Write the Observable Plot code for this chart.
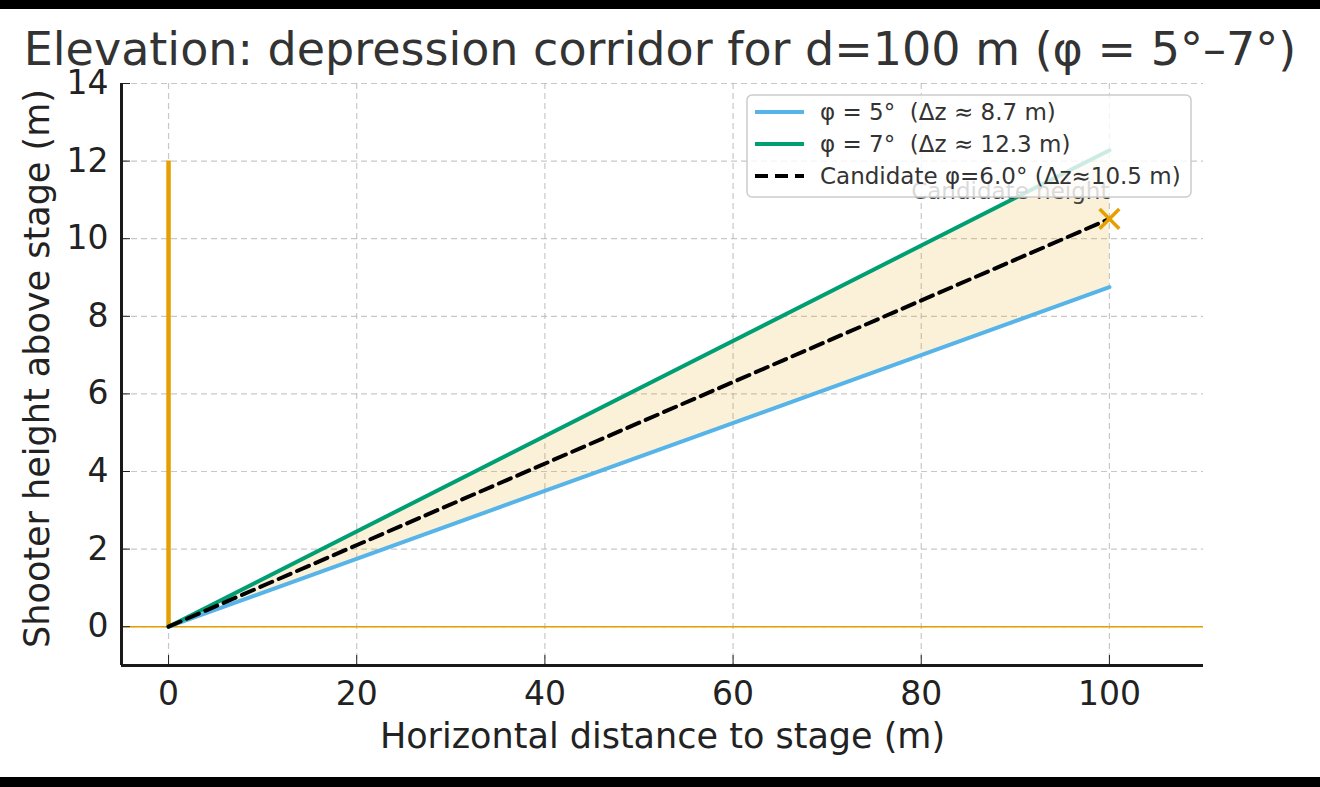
<!DOCTYPE html>
<html>
<head>
<meta charset="utf-8">
<script src="https://cdn.jsdelivr.net/npm/d3@7"></script>
<script src="https://cdn.jsdelivr.net/npm/@observablehq/plot@0.6"></script>
<style>
  html, body { margin: 0; padding: 0; background: #fff; }
  .bar { background: #000; width: 1320px; }
  #wrap { position: relative; width: 1320px; height: 768px; }
  #title { position: absolute; left: 0; width: 1320px; top: 17px; text-align: center;
           font-family: "DejaVu Sans", sans-serif; font-size: 46px; line-height: 46px; color: #333; white-space: nowrap; }
  svg { display: block; overflow: visible; }
</style>
</head>
<body>
<div class="bar" style="height:9px"></div>
<div id="wrap">
  <div id="title">Elevation: depression corridor for d=100 m (φ = 5°–7°)</div>
</div>
<div class="bar" style="height:10px"></div>
<script>
// ---- data ----
const distances = [0, 100];           // horizontal distance (m)
const lowHeights = [0, 8.75];         // φ = 5°
const highHeights = [0, 12.28];       // φ = 7°
const candHeights = [0, 10.51];       // φ = 6.0°
const candidatePoint = [{x: 100, y: 10.51}];
const stageMast = [{x: 0, y1: 0, y2: 12}];
const xTicks = [0, 20, 40, 60, 80, 100];
const yTicks = [0, 2, 4, 6, 8, 10, 12, 14];
const xDomain = [-5, 110];
const yDomain = [-1, 14];
const legendLabels = ["φ = 5°  (Δz ≈ 8.7 m)", "φ = 7°  (Δz ≈ 12.3 m)", "Candidate φ=6.0° (Δz≈10.5 m)"];
const colors = {low: "#56B4E9", high: "#009E73", cand: "#000000", accent: "#E69F00"};

const table = distances.map((d, i) => ({d, low: lowHeights[i], high: highHeights[i], cand: candHeights[i]}));

const W = 1320, H = 768, mT = 74, mB = 112, mL = 121, mR = 117;

const chart = Plot.plot({
  width: W, height: H,
  marginTop: mT, marginBottom: mB, marginLeft: mL, marginRight: mR,
  x: {domain: xDomain},
  y: {domain: yDomain},
  style: {fontFamily: "DejaVu Sans, sans-serif", fontSize: "33px", color: "#222", background: "transparent"},
  marks: [
    Plot.gridX(xTicks, {stroke: "#b0b0b0", strokeOpacity: 0.7, strokeWidth: 1.2, strokeDasharray: "6,4"}),
    Plot.gridY(yTicks, {stroke: "#b0b0b0", strokeOpacity: 0.7, strokeWidth: 1.2, strokeDasharray: "6,4"}),
    Plot.areaY(table, {x: "d", y1: "low", y2: "high", fill: colors.accent, fillOpacity: 0.15}),
    Plot.ruleY([0], {stroke: colors.accent, strokeWidth: 1.6}),
    Plot.ruleX(stageMast, {x: "x", y1: "y1", y2: "y2", stroke: colors.accent, strokeWidth: 4.5}),
    Plot.line(table, {x: "d", y: "low", stroke: colors.low, strokeWidth: 4}),
    Plot.line(table, {x: "d", y: "high", stroke: colors.high, strokeWidth: 4}),
    Plot.line(table, {x: "d", y: "cand", stroke: colors.cand, strokeWidth: 4, strokeDasharray: "13,7"}),
    Plot.dot(candidatePoint, {x: "x", y: "y", symbol: "times", r: 9, stroke: colors.accent, strokeWidth: 3.5}),
    Plot.text(candidatePoint, {x: "x", y: "y", text: () => "Candidate height", textAnchor: "end", dy: -27, fontSize: 23, fill: "#444"}),
    Plot.axisX(xTicks, {tickSize: -10, tickPadding: 26, label: null, fontSize: 33, stroke: "#222"}),
    Plot.axisY(yTicks, {tickSize: -9, tickPadding: 22, label: null, fontSize: 33, stroke: "#222"}),
    Plot.ruleX([xDomain[0]], {stroke: "#1a1a1a", strokeWidth: 3}),
    Plot.ruleY([yDomain[0]], {stroke: "#1a1a1a", strokeWidth: 3}),
    Plot.text(["Horizontal distance to stage (m)"], {frameAnchor: "bottom", dy: 82, fontSize: 35, fill: "#222", text: d => d}),
    Plot.text(["Shooter height above stage (m)"], {frameAnchor: "left", textAnchor: "middle", dx: -84, dy: -6, rotate: -90, fontSize: 35, fill: "#222", text: d => d})
  ]
});

document.getElementById("wrap").appendChild(chart);

// ---- legend (drawn on top, semi-opaque like matplotlib) ----
const svg = d3.select(chart);
const lx = 747, ly = 86, lw = 444, lh = 102;
const g = svg.append("g").attr("font-family", "DejaVu Sans, sans-serif").attr("text-anchor", "start");
g.append("rect").attr("x", lx).attr("y", ly).attr("width", lw).attr("height", lh)
  .attr("rx", 5).attr("fill", "#fff").attr("fill-opacity", 0.8)
  .attr("stroke", "#ccc").attr("stroke-width", 1.5);
const rowY = [ly + 17, ly + 49, ly + 81];
const sw = [colors.low, colors.high, colors.cand];
legendLabels.forEach((lab, i) => {
  g.append("line").attr("x1", lx + 8).attr("x2", lx + 57).attr("y1", rowY[i]).attr("y2", rowY[i])
    .attr("stroke", sw[i]).attr("stroke-width", 4)
    .attr("stroke-dasharray", i === 2 ? "13,7" : null);
  g.append("text").attr("x", lx + 73).attr("y", rowY[i]).attr("dy", "0.35em")
    .attr("font-size", 23).attr("fill", "#333").text(lab);
});
</script>
</body>
</html>
